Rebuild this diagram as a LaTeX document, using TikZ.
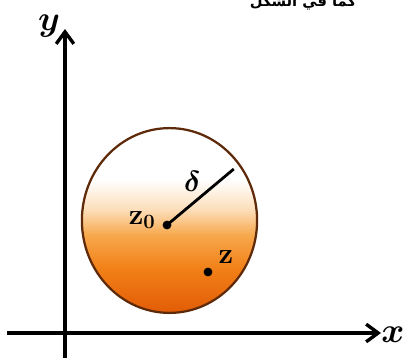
\documentclass[tikz,border=0pt]{standalone}
\usepackage{fontspec}
\newfontfamily\arabicfont[Script=Arabic]{DejaVu Sans}
\TeXXeTstate=1
\definecolor{deep}{RGB}{226,92,6}
\definecolor{warm}{RGB}{242,128,24}
\definecolor{peach}{RGB}{247,168,76}
\definecolor{pale}{RGB}{252,222,186}
\definecolor{rim}{RGB}{95,42,10}
\usetikzlibrary{arrows.meta}
\pgfdeclareverticalshading{disc}{100bp}{color(0bp)=(deep); color(25bp)=(deep);
  color(37bp)=(warm); color(46bp)=(peach); color(53bp)=(pale);
  color(61bp)=(white); color(100bp)=(white)}

\begin{document}
\begin{tikzpicture}[
    axis/.style={line width=2.4pt,-{Straight Barb[length=3mm,width=4.4mm]}},
    dot/.style={circle,fill=black,inner sep=0pt,minimum size=2.2mm},
    lbl/.style={font=\fontsize{20}{24}\selectfont\boldmath},
    axlbl/.style={font=\fontsize{25}{28}\selectfont\boldmath}]
        \useasboundingbox (-1.625,-0.675) rectangle (8.475,8.325);
        % disc
        \shade[shading=disc] (2.6125,2.8125) ellipse (2.19 and 2.31);
        \draw[rim,line width=1.6pt] (2.6125,2.8125) ellipse (2.19 and 2.31);
        % axes
        \draw[axis] (-1.45,0) -- (7.9,0);
        \draw[axis] (0,-0.625) -- (0,7.6);
        \node[axlbl] (xlab) at (8.2,-0.05) {$x$};
        \node[axlbl] (ylab) at (-0.4,7.68) {$y$};
        % centre, radius and point
        \node[dot] (z0) at (2.55,2.7) {};
        \node[dot] (z) at (3.575,1.525) {};
        \coordinate (tip) at (4.22,4.1);
        \draw[line width=2pt] (z0.center) -- (tip);
        \node[lbl] (z0lab) at (1.93,2.83) {$\mathbf{z}_{\mathbf{0}}$};
        \node[lbl] (zlab) at (4.02,1.9) {$\mathbf{z}$};
        \node[lbl] (dlab) at (3.18,3.8) {$\delta$};
        % caption line, cut by the top edge
        \node[anchor=base,font=\arabicfont\bfseries\fontsize{10.5}{12}\selectfont] (cap) at (5.95,8.16) {\beginR كما في الشكل\endR};
      \end{tikzpicture}
\end{document}
